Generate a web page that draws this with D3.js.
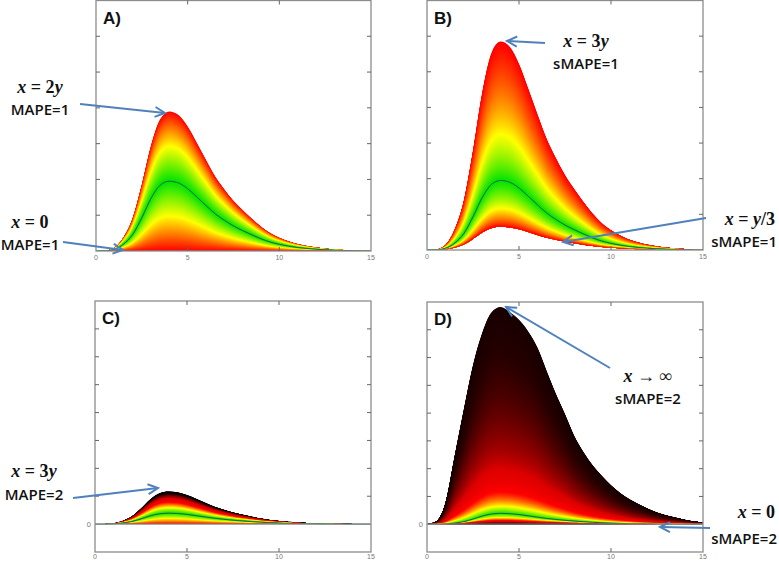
<!DOCTYPE html>
<html><head><meta charset="utf-8">
<script src="https://cdn.jsdelivr.net/npm/d3@7/dist/d3.min.js"></script>
<style>body{margin:0;background:#fff}svg{display:block}</style>
</head><body>
<svg id="chart" width="779" height="561"></svg>
<script>
// ---- data ----
const xValues = [0,0.5,1,1.5,2,2.5,3,3.5,4,4.5,5,5.5,6,6.5,7,7.5,8,8.5,9,9.5,10,10.5,11,11.5,12,12.5,13,13.5,14,14.5,15];
// actual values y (the dark centre line)
const trueCurve = [0,0.004,0.045,0.19,0.46,0.93,1.47,1.84,1.95,1.90,1.74,1.51,1.27,1.04,0.86,0.70,0.57,0.45,0.34,0.25,0.185,0.135,0.097,0.07,0.049,0.034,0.023,0.015,0.01,0.006,0.004];
// panel D upper edge (forecast x growing without bound)
const upperD = [0,0.5,3.8,12.2,20.6,28.6,34.4,38.1,39.1,38.2,36.8,34.7,31.8,27.6,23.5,19.8,15.9,13.0,10.6,8.7,7.0,5.6,4.5,3.6,2.8,2.1,1.6,1.2,0.8,0.5,0.3];
const panelNames = ["A)","B)","C)","D)"];
const panelMetric = ["MAPE","sMAPE","MAPE","sMAPE"];
const lowerFactor = [0, 1/3, 0, 0];     // x = k*y lower bound
const upperFactor = [2, 3, 3, 20];      // x = k*y upper bound (D: at the peak)
const yDomains = [[0,7],[0,7],[-5,40],[-5,40]];
const yTickStep = [1,1,5,5];
const xTicks = [0,5,10,15];
const errorStops = [0,0.5,1,1.35,1.6,1.76,1.88,2];
const errorColors = ["#00e400","#ffff00","#ff0000","#dc0000","#780000","#280000","#060000","#000000"];

// ---- layout ----
const boxes = [
  {l:96, r:371, t:0.5, b:251},
  {l:427, r:703, t:0.5, b:250},
  {l:95, r:371, t:301, b:552},
  {l:427, r:703, t:302, b:552}
];
const svg = d3.select("#chart");
const color = d3.scaleLinear().domain(errorStops).range(errorColors).clamp(true);
const metricFn = {
  MAPE: k => Math.abs(k-1),
  sMAPE: k => 2*Math.abs(k-1)/(k+1)
};
const data = xValues.map((x,i)=>({x, y:trueCurve[i], d:upperD[i]}));

const defs = svg.append("defs");
defs.append("marker").attr("id","arr").attr("markerUnits","userSpaceOnUse")
  .attr("viewBox","-12 -7 14 14").attr("refX",0).attr("refY",0)
  .attr("markerWidth",14).attr("markerHeight",14).attr("orient","auto")
  .append("path").attr("d","M-10,-5 L0,0 L-10,5").attr("fill","none")
  .attr("stroke","#4f81bd").attr("stroke-width",2);

panelNames.forEach((name,p)=>{
  const B = boxes[p];
  const x = d3.scaleLinear().domain([0,15]).range([B.l,B.r]);
  const y = d3.scaleLinear().domain(yDomains[p]).range([B.b,B.t]);
  const g = svg.append("g");
  defs.append("clipPath").attr("id","clip"+p).append("rect")
    .attr("x",B.l).attr("y",B.t).attr("width",B.r-B.l).attr("height",B.b-B.t);
  const plot = g.append("g").attr("clip-path",`url(#clip${p})`);
  const f = metricFn[panelMetric[p]];
  const kmin = lowerFactor[p], kmax = upperFactor[p];
  const isD = p === 3;

  // band list: each band is an area from kmin*y up to a level, drawn top-down
  const bands = [];
  if (!isD) {
    const n = 300;
    for (let i=n;i>=1;i--) {
      const k1 = kmin + (kmax-kmin)*i/n, k0 = kmin + (kmax-kmin)*(i-1)/n;
      bands.push({top:d=>k1*d.y, c:color(f((k0+k1)/2))});
    }
  } else {
    // above the actual value: stretched between y and panel D's upper edge
    const n = 400;
    for (let i=n;i>=1;i--) {
      const s1 = i/n, sm = (i-0.5)/n;
      bands.push({top:d=>d.y + s1*(d.d-d.y), c:color(f(1+(kmax-1)*sm))});
    }
    const m = 150;
    for (let i=m;i>=1;i--) {
      const k1 = i/m, km = (i-0.5)/m;
      bands.push({top:d=>k1*d.y, c:color(f(km))});
    }
  }
  bands.forEach(b=>{
    const area = d3.area().curve(d3.curveMonotoneX)
      .x(d=>x(d.x)).y0(d=>y(kmin*d.y)).y1(d=>y(b.top(d)));
    plot.append("path").datum(data).attr("d",area).attr("fill",b.c).attr("stroke","none");
  });
  plot.append("path").datum(data)
    .attr("d",d3.line().curve(d3.curveMonotoneX).x(d=>x(d.x)).y(d=>y(d.y)))
    .attr("fill","none").attr("stroke","#23604f").attr("stroke-width",1);

  if (yDomains[p][0] < 0) {
    g.append("line").attr("x1",B.l).attr("x2",B.r).attr("y1",y(0)).attr("y2",y(0))
      .attr("stroke","#8c8c8c").attr("stroke-width",1.2);
    g.append("text").attr("x",B.l-4).attr("y",y(0)+2.5).attr("text-anchor","end")
      .attr("font-family","Liberation Sans, Arial").attr("font-size",7.5).attr("fill","#777").text("0");
  }
  g.append("rect").attr("x",B.l).attr("y",B.t).attr("width",B.r-B.l).attr("height",B.b-B.t)
    .attr("fill","none").attr("stroke","#8c8c8c").attr("stroke-width",1.3);
  const [y0,y1] = yDomains[p];
  for (let v=y0+yTickStep[p]; v<y1; v+=yTickStep[p]) {
    if (v===0) continue;
    g.append("line").attr("x1",B.l).attr("x2",B.l+4).attr("y1",y(v)).attr("y2",y(v)).attr("stroke","#666");
    g.append("line").attr("x1",B.r-4).attr("x2",B.r).attr("y1",y(v)).attr("y2",y(v)).attr("stroke","#666");
  }
  xTicks.forEach(v=>{
    if (v>0 && v<15) {
      g.append("line").attr("x1",x(v)).attr("x2",x(v)).attr("y1",B.b).attr("y2",B.b-4).attr("stroke","#666");
      g.append("line").attr("x1",x(v)).attr("x2",x(v)).attr("y1",B.t).attr("y2",B.t+4).attr("stroke","#666");
    }
    g.append("text").attr("x",x(v)).attr("y",Math.min(B.b+8.5,559)).attr("text-anchor","middle")
      .attr("font-family","Liberation Sans, Arial").attr("font-size",7).attr("fill","#777").text(v);
  });
  g.append("text").attr("x",B.l+7).attr("y",B.t+23)
    .attr("font-family","Liberation Sans, Arial").attr("font-weight","bold").attr("font-size",17)
    .attr("fill","#111").text(name);
});

// ---- annotations ----
const annotations = [
  {math:[["x",1]," = 2",["y",1]], label:"MAPE=1", cx:40, anchor:"middle", my:93, ly:115, from:[80,104], to:[165,113]},
  {math:[["x",1]," = 0"], label:"MAPE=1", cx:30, anchor:"middle", my:228, ly:250, from:[63,242], to:[123,250]},
  {math:[["x",1]," = 3",["y",1]], label:"sMAPE=1", cx:586, anchor:"middle", my:47, ly:69, from:[545,43], to:[507,41]},
  {math:[["x",1]," = ",["y",1],"/3"], label:"sMAPE=1", cx:777, anchor:"end", my:225, ly:247, from:[706,218], to:[563,242]},
  {math:[["x",1]," = 3",["y",1]], label:"MAPE=2", cx:34, anchor:"middle", my:477, ly:500, from:[73,498], to:[158,488]},
  {math:[["x",1]," → ∞"], label:"sMAPE=2", cx:648, anchor:"middle", my:382, ly:404, from:[610,368], to:[506,307]},
  {math:[["x",1]," = 0"], label:"sMAPE=2", cx:777, anchor:"end", my:518, ly:544, from:[710,528], to:[660,527]}
];
annotations.forEach(a=>{
  svg.append("line").attr("x1",a.from[0]).attr("y1",a.from[1]).attr("x2",a.to[0]).attr("y2",a.to[1])
    .attr("stroke","#4f81bd").attr("stroke-width",2).attr("marker-end","url(#arr)");
  const t = svg.append("text").attr("x",a.anchor==="end"?a.cx-2:a.cx).attr("y",a.my).attr("text-anchor",a.anchor)
    .attr("font-family","Liberation Serif, DejaVu Serif, serif").attr("font-size",18).attr("font-weight","bold")
    .attr("fill","#111").attr("xml:space","preserve");
  a.math.forEach(part=>{
    if (Array.isArray(part)) t.append("tspan").attr("font-style","italic").text(part[0]);
    else t.append("tspan").text(part);
  });
  svg.append("text").attr("x",a.cx).attr("y",a.ly).attr("text-anchor",a.anchor)
    .attr("font-family","Open Sans, Liberation Sans, sans-serif").attr("font-weight",600)
    .attr("font-size",15).attr("fill","#111").text(a.label);
});
</script>
</body></html>
